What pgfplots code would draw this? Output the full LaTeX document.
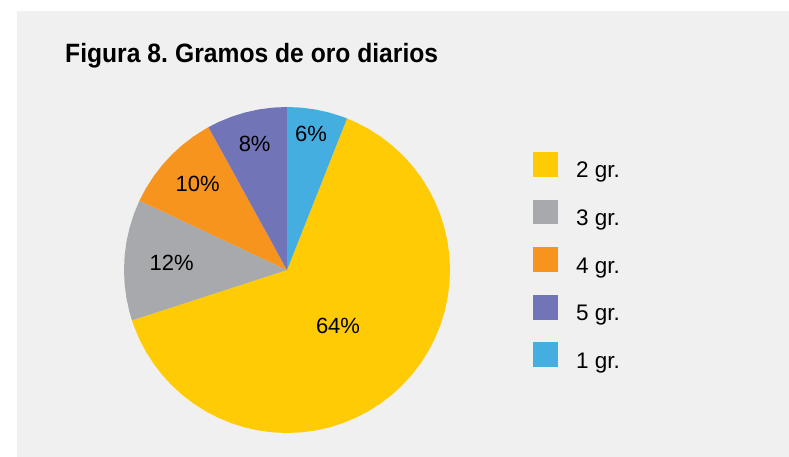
\documentclass[border=0pt]{standalone}
\usepackage{fontspec}
\setmainfont{Liberation Sans}
\usepackage{pgfplots}
\usepgfplotslibrary{polar}
\pgfplotsset{compat=1.18}
\definecolor{bgc}{HTML}{F0F0F0}
\definecolor{cyel}{HTML}{FFCB05}
\definecolor{cgray}{HTML}{A7A9AC}
\definecolor{corange}{HTML}{F7941E}
\definecolor{cpurple}{HTML}{7174B7}
\definecolor{cblue}{HTML}{45AEE1}
\begin{document}
\begin{tikzpicture}
\useasboundingbox (0,0) rectangle (789bp,457bp);
\fill[bgc] (17bp,0) rectangle (789bp,446bp);
\node[anchor=base west, inner sep=0pt] at (65bp,394.3bp)
  {\scalebox{0.93}[1]{\fontsize{26.5bp}{30bp}\selectfont\bfseries Figura 8.\hspace{-2bp} Gramos de oro diarios}};
\begin{axis}[
  at={(287bp,187bp)}, anchor=center,
  scale only axis, width=326bp, height=326bp,
  xmin=-1, xmax=1, ymin=-1, ymax=1,
  hide axis, clip=false,
  legend image code/.code={\fill[#1] (0bp,-6bp) rectangle (25bp,18.7bp);},
  legend cell align=left,
  legend style={at={(1.2546,0.862)}, anchor=north west, draw=none, fill=none,
    inner sep=0pt, row sep=20.3bp,
    font=\fontsize{22.5bp}{25bp}\selectfont,
    nodes={inner sep=0pt}},
  /tikz/every odd column/.append style={column sep=18bp},
]
% 2 gr. : 64%
\addplot[fill=cyel, draw=none, data cs=polar] coordinates {
 (0,0) (68.4,1) (65,1) (60,1) (55,1) (50,1) (45,1) (40,1) (35,1) (30,1) (25,1) (20,1)
 (15,1) (10,1) (5,1) (0,1) (-5,1) (-10,1) (-15,1) (-20,1) (-25,1) (-30,1) (-35,1)
 (-40,1) (-45,1) (-50,1) (-55,1) (-60,1) (-65,1) (-70,1) (-75,1) (-80,1) (-85,1)
 (-90,1) (-95,1) (-100,1) (-105,1) (-110,1) (-115,1) (-120,1) (-125,1) (-130,1)
 (-135,1) (-140,1) (-145,1) (-150,1) (-155,1) (-160,1) (-162,1) } -- cycle;
% 3 gr. : 12%
\addplot[fill=cgray, draw=none, data cs=polar] coordinates {
 (0,0) (198,1) (195,1) (190,1) (185,1) (180,1) (175,1) (170,1) (165,1) (160,1) (155,1) (154.8,1) } -- cycle;
% 4 gr. : 10%
\addplot[fill=corange, draw=none, data cs=polar] coordinates {
 (0,0) (154.8,1) (150,1) (145,1) (140,1) (135,1) (130,1) (125,1) (120,1) (118.8,1) } -- cycle;
% 5 gr. : 8%
\addplot[fill=cpurple, draw=none, data cs=polar] coordinates {
 (0,0) (118.8,1) (115,1) (110,1) (105,1) (100,1) (95,1) (90,1) } -- cycle;
% 1 gr. : 6%
\addplot[fill=cblue, draw=none, data cs=polar] coordinates {
 (0,0) (90,1) (85,1) (80,1) (75,1) (70,1) (68.4,1) } -- cycle;
\legend{2 gr.,3 gr.,4 gr.,5 gr.,1 gr.}
% labels
\addplot[forget plot, only marks, mark=none, data cs=polar,
  point meta=explicit symbolic, nodes near coords,
  every node near coord/.append style={anchor=center, inner sep=0pt,
    font=\fontsize{22bp}{25bp}\selectfont, text=black}]
  coordinates {
  (80.0,0.847) [6\%]
  (104.4,0.798) [8\%]
  (136.05,0.761) [10\%]
  (176.4,0.709) [12\%]
  (-47.8,0.466) [64\%]
  };
\end{axis}
\end{tikzpicture}
\end{document}
